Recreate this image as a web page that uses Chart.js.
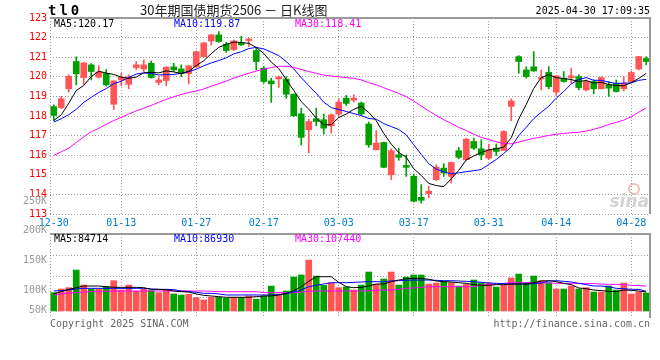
<!DOCTYPE html>
<html>
<head>
<meta charset="utf-8">
<script src="https://cdn.jsdelivr.net/npm/chart.js@4.4.1/dist/chart.umd.min.js"></script>
<style>
  html, body { margin: 0; padding: 0; background: #fff; }
  #wrap { position: relative; width: 660px; height: 360px; }
  #wrap canvas { position: absolute; left: 0; top: 0; }
</style>
</head>
<body>
<div id="wrap">
  <canvas id="kChart" width="660" height="360"></canvas>
  <canvas id="volChart" width="660" height="360"></canvas>
</div>
<script>
// 交易日
const dates = ['12-30','12-31',
  '01-02','01-03','01-06','01-07','01-08','01-09','01-10','01-13','01-14','01-15','01-16','01-17','01-20','01-21','01-22','01-23','01-24','01-27',
  '02-05','02-06','02-07','02-10','02-11','02-12','02-13','02-14','02-17','02-18','02-19','02-20','02-21','02-24','02-25','02-26','02-27','02-28',
  '03-03','03-04','03-05','03-06','03-07','03-10','03-11','03-12','03-13','03-14','03-17','03-18','03-19','03-20','03-21','03-24','03-25','03-26','03-27','03-28','03-31',
  '04-01','04-02','04-03','04-07','04-08','04-09','04-10','04-11','04-14','04-15','04-16','04-17','04-18','04-21','04-22','04-23','04-24','04-25','04-28','04-29','04-30'];
const tickDates = ['12-30','01-13','01-27','02-17','03-03','03-17','03-31','04-14','04-28'];

// K线 开/高/低/收
const opens = [118.48,118.43,119.39,120.78,119.96,120.61,119.98,120.17,118.60,119.84,
  119.62,120.47,120.40,120.69,119.71,119.81,120.51,120.40,120.17,120.52,
  121.03,121.83,122.14,121.66,121.39,121.71,121.85,121.34,120.44,119.79,
  119.89,119.88,119.11,118.11,117.30,117.86,117.81,117.50,118.10,118.91,
  118.81,118.66,117.59,116.28,116.65,115.00,116.02,115.48,114.92,113.85,
  114.04,114.75,115.34,114.92,116.23,115.77,116.70,116.33,115.85,116.36,
  116.24,118.49,121.03,120.35,120.51,119.89,120.23,119.22,119.93,119.96,
  120.01,119.33,119.76,119.39,119.59,119.67,119.39,119.76,120.40,120.93];
const highs = [118.57,119.01,120.10,121.02,120.73,120.68,120.57,120.37,119.80,120.18,
  120.10,120.78,120.86,120.81,120.01,120.52,120.69,120.61,120.58,121.32,
  121.75,122.16,122.31,121.76,121.88,122.07,121.97,121.46,120.52,119.93,
  120.05,120.01,119.13,118.40,117.84,118.40,118.10,118.11,118.88,119.05,
  119.08,118.71,117.69,117.25,116.67,116.33,116.36,116.02,115.04,114.50,
  114.41,115.51,115.57,115.65,116.40,116.87,116.87,116.79,116.57,116.57,
  117.25,118.88,121.08,120.52,121.29,120.35,120.52,120.06,120.27,120.44,
  120.10,119.84,119.84,120.01,119.76,119.84,120.01,120.30,121.04,121.03];
const lows = [117.76,118.37,119.22,119.59,119.60,119.84,119.93,119.52,118.32,119.55,
  119.39,120.35,120.27,119.93,119.59,119.55,120.27,120.01,119.64,120.47,
  121.00,121.63,121.76,121.25,121.34,121.59,121.54,120.35,119.67,118.69,
  119.45,118.91,117.98,116.53,116.11,117.50,117.08,117.13,117.98,118.54,
  118.71,118.03,116.40,116.26,115.36,114.75,115.74,114.92,113.61,113.56,
  113.82,114.70,114.92,114.58,115.82,115.74,116.28,115.77,115.77,115.99,
  116.23,117.76,120.18,119.93,120.27,119.33,119.39,119.05,119.72,119.67,
  119.33,119.28,119.13,119.38,118.99,119.22,119.28,119.72,120.35,120.61];
const closes = [118.03,118.88,120.03,120.15,120.71,120.27,120.25,119.59,119.79,119.98,
  120.00,120.61,120.61,119.96,119.84,120.49,120.35,120.18,120.56,121.28,
  121.73,122.14,121.80,121.34,121.83,121.63,121.93,120.78,119.76,119.64,
  119.99,119.11,118.01,116.91,117.72,117.72,117.38,118.06,118.71,118.64,
  118.91,118.11,116.53,116.62,115.38,116.23,115.89,115.38,113.65,113.70,
  114.16,115.38,115.09,115.63,115.89,116.82,116.36,116.02,116.28,116.19,
  117.21,118.77,120.78,120.01,120.30,119.96,119.50,120.05,119.76,120.05,
  119.45,119.76,119.39,119.96,119.42,119.25,119.67,120.22,121.03,120.78];

// 均线
const ma5 = [117.77,118.06,118.65,119.30,119.56,120.01,120.28,120.19,120.12,119.98,
  119.92,119.99,120.20,120.23,120.20,120.30,120.25,120.16,120.28,120.57,
  120.82,121.18,121.50,121.66,121.77,121.75,121.71,121.50,121.19,120.75,
  120.42,119.86,119.30,118.73,118.35,117.89,117.55,117.56,117.92,118.10,
  118.34,118.49,118.18,117.76,117.11,116.57,116.13,115.90,115.31,114.97,
  114.56,114.45,114.40,114.79,115.23,115.76,115.96,116.14,116.27,116.33,
  116.41,116.89,117.85,118.59,119.41,119.96,120.11,119.96,119.91,119.86,
  119.76,119.81,119.68,119.72,119.60,119.56,119.54,119.70,119.92,120.17];
const ma10 = [117.69,117.86,118.07,118.34,118.70,118.95,119.20,119.40,119.65,119.77,
  119.97,120.14,120.20,120.18,120.09,120.11,120.12,120.18,120.26,120.39,
  120.56,120.71,120.83,120.97,121.17,121.28,121.44,121.50,121.42,121.26,
  121.08,120.78,120.40,119.96,119.55,119.16,118.70,118.43,118.33,118.23,
  118.12,118.02,117.87,117.84,117.61,117.46,117.31,117.04,116.53,116.04,
  115.57,115.29,115.15,115.05,115.10,115.16,115.21,115.27,115.53,115.78,
  116.09,116.43,117.00,117.43,117.87,118.19,118.50,118.91,119.25,119.64,
  119.86,119.96,119.82,119.82,119.73,119.66,119.68,119.69,119.82,119.87];
const ma30 = [115.99,116.17,116.36,116.65,116.93,117.20,117.37,117.58,117.77,117.93,
  118.10,118.26,118.40,118.54,118.70,118.85,118.98,119.10,119.20,119.27,
  119.38,119.52,119.65,119.78,119.93,120.06,120.18,120.29,120.39,120.47,
  120.54,120.54,120.48,120.37,120.27,120.18,120.09,120.04,120.00,119.96,
  119.92,119.84,119.70,119.59,119.44,119.30,119.15,118.99,118.76,118.51,
  118.26,118.03,117.81,117.62,117.42,117.26,117.07,116.91,116.80,116.68,
  116.59,116.58,116.67,116.77,116.86,116.93,117.01,117.07,117.11,117.15,
  117.17,117.23,117.32,117.43,117.57,117.67,117.79,117.96,118.20,118.41];

// 成交量
const volumes = [95500,101700,103900,133700,108400,101700,101700,105600,115700,100000,
  108400,97800,101100,98900,95500,101100,93300,91600,92700,87100,
  83200,87700,87700,86000,87700,87700,89900,84300,89900,106700,
  93300,98300,121900,125300,150500,123600,107900,112300,103900,105000,
  100000,108400,130300,109500,118500,130300,108400,121900,125300,125300,
  110100,111800,114000,112300,106700,109500,116800,112300,111800,105000,
  107900,120200,126900,112300,123600,115700,112300,101700,101700,106700,
  101700,103900,96600,96600,106700,100000,111800,93300,96600,94900];
const volMa5 = [93300,97200,101100,103900,106700,106700,106700,105600,104500,104500,
  104500,104500,103900,101100,101100,100600,98300,97200,96600,93300,
  91000,89900,88800,87700,87700,87700,87700,88800,89900,89900,
  91600,94400,98900,105600,114600,122400,122400,122400,112900,105600,
  103900,104500,106700,110100,110100,114000,116800,119100,119600,119600,
  118000,115200,114000,113500,112300,111200,109000,107900,107900,109000,
  109000,110100,110100,110100,112300,115200,115700,114000,111200,109000,
  103400,102200,100000,98900,97800,97200,100000,99400,98300,96600];
const volMa10 = [98300,98900,100000,101700,102800,102800,102800,102800,102800,102800,
  102800,102800,102800,101700,101100,101100,100600,98300,97200,96100,
  94400,94400,93300,91600,91600,91600,91600,91600,91600,91600,
  92100,93800,96600,100000,105600,107900,110100,112300,112300,112300,
  112900,113500,114000,114000,114000,115200,115700,116300,116800,116800,
  116800,116300,115700,115700,115200,114600,114000,112900,111800,111200,
  110700,110100,110100,110100,110700,111800,115200,115700,114600,113500,
  111200,109000,106700,106700,105600,102800,102200,101100,101100,97800];
const volMa30 = [91600,93300,95000,95500,96600,97200,97500,97800,98000,98100,
  98200,98300,98300,98300,98300,98300,98300,98300,98300,98300,
  98300,97800,97200,97200,97200,97200,97200,97200,95500,95500,
  95500,95500,95500,96600,97800,98300,98300,98300,98300,98300,
  98300,98300,98900,99400,100000,100000,101100,102800,103400,104500,
  105600,105600,105600,105600,105600,105600,105600,107900,109000,110100,
  111200,112300,112300,112300,112300,112300,111800,111200,111200,111200,
  111200,111200,110700,110100,109500,109500,109000,107900,107300,106700];
const volTicks = [50000, 100000, 150000, 200000, 250000];
const volLegend = ['MA5:84714', 'MA10:86930', 'MA30:107440'];

const RED = '#ff5555';
const GREEN = '#00a000';
const MONO = "'DejaVu Sans Mono', monospace";
const upColors = opens.map((o, i) => closes[i] >= o ? RED : GREEN);

const gridColor = (ctx) => {
  if (!ctx.tick) return 'rgba(0,0,0,0)';
  const d = dates[ctx.tick.value];
  return (d !== '12-30' && tickDates.includes(d)) ? '#a0a0a0' : 'rgba(0,0,0,0)';
};

function frame(ctx, a, bottom) {
  ctx.save();
  ctx.strokeStyle = '#a0a0a0';
  ctx.lineWidth = 1;
  ctx.setLineDash([1, 2]);
  ctx.beginPath();
  ctx.moveTo(a.left + 0.5, a.top);
  ctx.lineTo(a.left + 0.5, bottom);
  ctx.stroke();
  ctx.setLineDash([]);
  ctx.strokeStyle = '#999';
  ctx.lineWidth = 2;
  ctx.beginPath();
  ctx.moveTo(a.left, a.top);
  ctx.lineTo(a.right, a.top);
  ctx.lineTo(a.right, bottom);
  ctx.stroke();
  ctx.restore();
}

const priceDecor = {
  id: 'priceDecor',
  beforeDatasetsDraw(chart) {
    const ctx = chart.ctx;
    ctx.save();
    ctx.fillStyle = 'rgba(200,200,200,0.8)';
    ctx.font = "italic bold 17px 'DejaVu Sans', sans-serif";
    ctx.textAlign = 'right';
    ctx.fillText('sina', 649, 207);
    ctx.strokeStyle = 'rgba(240,170,170,0.8)';
    ctx.lineWidth = 2;
    ctx.beginPath();
    ctx.arc(634, 189, 5, 0, Math.PI * 2);
    ctx.stroke();
    ctx.restore();
  },
  afterDraw(chart) {
    const ctx = chart.ctx;
    const a = chart.chartArea;
    frame(ctx, a, a.bottom);
    ctx.save();
    ctx.textBaseline = 'alphabetic';
    // 代码
    ctx.fillStyle = '#000';
    ctx.font = 'bold 14px ' + MONO;
    ctx.letterSpacing = '3px';
    ctx.fillText('tl0', 48, 15);
    ctx.letterSpacing = '0px';
    // 标题
    ctx.fillStyle = '#222';
    ctx.font = "13px 'Noto Sans CJK SC', sans-serif";
    ctx.fillText('30年期国债期货2506 － 日K线图', 140, 15);
    // 时间
    ctx.fillStyle = '#000';
    ctx.font = '10px ' + MONO;
    ctx.textAlign = 'right';
    ctx.fillText('2025-04-30 17:09:35', 650, 14);
    ctx.textAlign = 'left';
    // 均线图例
    ctx.fillStyle = '#000';
    ctx.fillText('MA5:' + ma5[ma5.length - 1].toFixed(2), 54, 27);
    ctx.fillStyle = '#0000ff';
    ctx.fillText('MA10:' + ma10[ma10.length - 1].toFixed(2), 174, 27);
    ctx.fillStyle = '#ff00ff';
    ctx.fillText('MA30:' + ma30[ma30.length - 1].toFixed(2), 295, 27);
    // 版权
    ctx.fillStyle = '#666';
    ctx.fillText('Copyright 2025 SINA.COM', 50, 327);
    ctx.textAlign = 'right';
    ctx.fillText('http://finance.sina.com.cn', 650, 327);
    ctx.restore();
  }
};

new Chart(document.getElementById('kChart'), {
  type: 'bar',
  data: {
    labels: dates,
    datasets: [
      { type: 'line', data: ma5, borderColor: '#000', borderWidth: 1, pointRadius: 0, order: 0 },
      { type: 'line', data: ma10, borderColor: '#0000ff', borderWidth: 1, pointRadius: 0, order: 0 },
      { type: 'line', data: ma30, borderColor: '#ff00ff', borderWidth: 1, pointRadius: 0, order: 0 },
      { type: 'bar', data: opens.map((o, i) => [o, closes[i]]), backgroundColor: upColors,
        barThickness: 6, grouped: false, order: 1 },
      { type: 'bar', data: lows.map((l, i) => [l, highs[i]]), backgroundColor: upColors,
        barThickness: 1, grouped: false, order: 2 }
    ]
  },
  options: {
    responsive: false,
    animation: false,
    layout: { padding: { left: 0, right: 10, top: 18, bottom: 126 } },
    plugins: { legend: { display: false }, tooltip: { enabled: false } },
    scales: {
      x: {
        offset: true,
        grid: { offset: false, drawTicks: false, color: gridColor },
        border: { display: false, dash: [1, 2] },
        ticks: {
          autoSkip: false, maxRotation: 0, minRotation: 0, padding: 3,
          color: '#0080cc', font: { family: MONO, size: 10 },
          callback: (v) => tickDates.includes(dates[v]) ? dates[v] : ''
        },
        afterFit: (s) => { s.height = 20; }
      },
      y: {
        min: 113, max: 123,
        grid: { drawTicks: false, color: '#a0a0a0' },
        border: { display: false, dash: [1, 2] },
        ticks: { stepSize: 1, padding: 3, color: '#ff0000', font: { family: MONO, size: 10 } },
        afterFit: (s) => { s.width = 50; }
      }
    }
  },
  plugins: [priceDecor]
});

const volDecor = {
  id: 'volDecor',
  beforeDatasetsDraw(chart) {
    const ctx = chart.ctx;
    const a = chart.chartArea;
    ctx.save();
    ctx.strokeStyle = '#a0a0a0';
    ctx.lineWidth = 1;
    ctx.setLineDash([1, 2]);
    for (let k = 1; k < 4; k++) {
      const y = Math.round(a.top + (a.bottom - a.top) * k / 4) + 0.5;
      ctx.beginPath();
      ctx.moveTo(a.left, y);
      ctx.lineTo(a.right, y);
      ctx.stroke();
    }
    ctx.restore();
  },
  afterDraw(chart) {
    const ctx = chart.ctx;
    const a = chart.chartArea;
    const ys = chart.scales.y;
    frame(ctx, a, a.bottom);
    ctx.save();
    ctx.font = '10px ' + MONO;
    ctx.textBaseline = 'middle';
    ctx.textAlign = 'right';
    ctx.fillStyle = '#999';
    volTicks.forEach(v => {
      const y = Math.min(ys.getPixelForValue(v), 310);
      ctx.fillText(Math.round(v / 1000) + 'K', 47, y);
    });
    ctx.textAlign = 'left';
    ctx.textBaseline = 'alphabetic';
    ctx.fillStyle = '#000';
    ctx.fillText(volLegend[0], 54, 242);
    ctx.fillStyle = '#0000ff';
    ctx.fillText(volLegend[1], 174, 242);
    ctx.fillStyle = '#ff00ff';
    ctx.fillText(volLegend[2], 295, 242);
    ctx.restore();
  }
};

new Chart(document.getElementById('volChart'), {
  type: 'bar',
  data: {
    labels: dates,
    datasets: [
      { type: 'line', data: volMa5, borderColor: '#000', borderWidth: 1, pointRadius: 0, order: 0 },
      { type: 'line', data: volMa10, borderColor: '#0000ff', borderWidth: 1, pointRadius: 0, order: 0 },
      { type: 'line', data: volMa30, borderColor: '#ff00ff', borderWidth: 1, pointRadius: 0, order: 0 },
      { type: 'bar', data: volumes, backgroundColor: upColors, barThickness: 6, base: 64600, order: 1 }
    ]
  },
  options: {
    responsive: false,
    animation: false,
    layout: { padding: { left: 50, right: 10, top: 234, bottom: 42 } },
    plugins: { legend: { display: false }, tooltip: { enabled: false } },
    scales: {
      x: {
        offset: true,
        grid: { offset: false, drawTicks: false, color: gridColor },
        border: { display: false, dash: [1, 2] },
        ticks: { display: false },
        afterFit: (s) => { s.height = 0; }
      },
      y: { display: false, min: 52800, max: 194400 }
    }
  },
  plugins: [volDecor]
});
</script>
</body>
</html>
